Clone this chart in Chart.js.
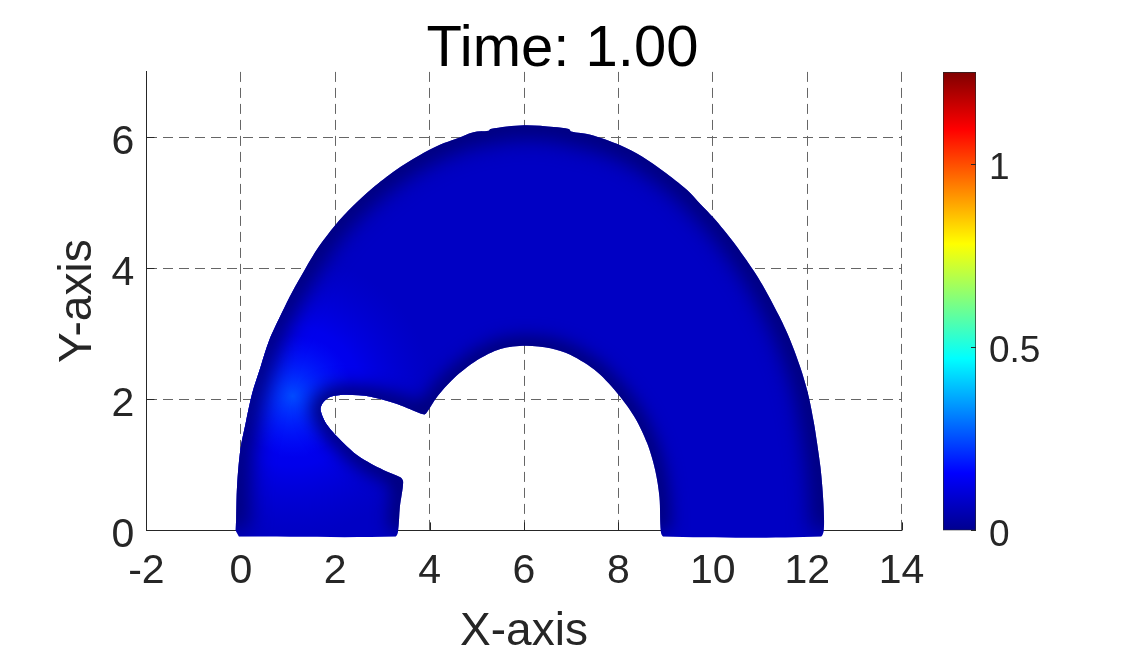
<!DOCTYPE html>
<html>
<head>
<meta charset="utf-8">
<title>Time: 1.00</title>
<script src="https://cdn.jsdelivr.net/npm/chart.js@4"></script>
<style>
  html, body { margin: 0; background: #fff; overflow: hidden; }
  canvas { position: absolute; top: 0; left: 0; }
  #colorbar { left: 900px; }
</style>
</head>
<body>
<canvas id="mainChart" width="1125" height="656"></canvas>
<canvas id="colorbar" width="225" height="656"></canvas>
<script>
// outline of the deformed body (x, y in axis units)
const outerX = [-0.11, -0.10, -0.08, -0.01, 0.10, 0.24, 0.42, 0.60, 0.875, 1.09, 1.37, 1.65, 2.00, 2.36, 2.78, 3.28, 3.77, 4.23, 4.55, 4.93, 5.25, 5.29, 6.00, 6.63, 6.95, 7.00, 7.41, 8.04, 8.50, 8.96, 9.45, 9.74, 10.02, 10.23, 10.44, 10.65, 10.87, 11.05, 11.22, 11.40, 11.54, 11.72, 11.89, 12.03, 12.14, 12.21, 12.28, 12.32, 12.35, 12.35];
const outerY = [0.00, 0.16, 0.67, 1.23, 1.63, 2.09, 2.50, 2.90, 3.33, 3.64, 4.00, 4.33, 4.66, 4.94, 5.22, 5.50, 5.72, 5.89, 5.975, 6.08, 6.10, 6.13, 6.185, 6.16, 6.13, 6.09, 6.04, 5.88, 5.71, 5.48, 5.20, 4.98, 4.77, 4.59, 4.40, 4.19, 3.96, 3.75, 3.53, 3.28, 3.07, 2.76, 2.41, 2.05, 1.65, 1.33, 0.97, 0.67, 0.31, 0.00];
const innerX = [8.90, 8.87, 8.78, 8.61, 8.36, 8.03, 7.55, 6.98, 6.56, 6.03, 5.50, 5.01, 4.51, 4.16, 3.95, 3.89, 3.59, 3.31, 2.75, 2.25, 1.90, 1.74, 1.69, 1.83, 2.18, 2.46, 2.75, 3.03, 3.38, 3.44, 3.37, 3.33];
const innerY = [-0.02, 0.51, 0.92, 1.33, 1.71, 2.05, 2.42, 2.68, 2.78, 2.82, 2.77, 2.60, 2.32, 2.04, 1.81, 1.77, 1.85, 1.93, 2.04, 2.07, 2.04, 1.95, 1.84, 1.61, 1.33, 1.15, 1.02, 0.92, 0.81, 0.74, 0.36, -0.02];
const bottomRightX = [12.28, 8.96];
const bottomLeftX = [3.27, -0.04];
const bottomY = -0.095;

const xTicks = [-2, 0, 2, 4, 6, 8, 10, 12, 14];
const yTicks = [0, 2, 4, 6];
const barTicks = [0, 0.5, 1];
const barMax = 1.25;

// jet colormap, as fractions of the colorbar height
const jetStops = [0, 0.125, 0.375, 0.625, 0.875, 1];
const jetColors = ['#00008f', '#0000ff', '#00ffff', '#ffff00', '#ff0000', '#800000'];

const shapePoints = [];
outerX.forEach((x, i) => shapePoints.push({ x: x, y: outerY[i] }));
bottomRightX.forEach(x => shapePoints.push({ x: x, y: bottomY }));
innerX.forEach((x, i) => shapePoints.push({ x: x, y: innerY[i] }));
bottomLeftX.forEach(x => shapePoints.push({ x: x, y: bottomY }));

const textColor = '#262626';
const font = 'Liberation Sans, Arial, sans-serif';

// small inward ticks like the original axes
const inwardTicks = {
    id: 'inwardTicks',
    beforeDatasetsDraw(chart) {
        const { ctx, chartArea, scales } = chart;
        ctx.save();
        ctx.strokeStyle = textColor;
        ctx.lineWidth = 1;
        ctx.beginPath();
        xTicks.forEach(v => {
            const px = Math.round(scales.x.getPixelForValue(v)) + 0.5;
            ctx.moveTo(px, chartArea.bottom);
            ctx.lineTo(px, chartArea.bottom - 8);
        });
        yTicks.forEach(v => {
            const py = Math.round(scales.y.getPixelForValue(v)) + 0.5;
            ctx.moveTo(chartArea.left, py);
            ctx.lineTo(chartArea.left + 8, py);
        });
        ctx.stroke();
        ctx.restore();
    }
};

// the filler clips at the plot area, the body hangs a little below it, so fill it here
const bodyShade = {
    id: 'bodyShade',
    afterDatasetDraw(chart, args) {
        const { ctx, scales } = chart;
        const line = args.meta.dataset;
        const pts = args.meta.data;
        ctx.save();
        ctx.beginPath();
        line.path(ctx);
        ctx.closePath();
        ctx.fillStyle = '#0000c4';
        ctx.fill();
        ctx.clip();

        // hot spot on the left shoulder
        const hx = scales.x.getPixelForValue(1.1);
        const hy = scales.y.getPixelForValue(2.05);
        let g = ctx.createRadialGradient(hx, hy, 0, hx, hy, 140);
        g.addColorStop(0, 'rgba(0,0,255,1)');
        g.addColorStop(0.5, 'rgba(0,0,245,0.8)');
        g.addColorStop(1, 'rgba(0,0,220,0)');
        ctx.fillStyle = g;
        ctx.fillRect(hx - 140, hy - 140, 280, 280);
        g = ctx.createRadialGradient(hx, hy, 0, hx, hy, 62);
        g.addColorStop(0, 'rgba(0,75,255,1)');
        g.addColorStop(1, 'rgba(0,30,255,0)');
        ctx.fillStyle = g;
        ctx.fillRect(hx - 62, hy - 62, 124, 124);

        // darker along the free edges, not along the bottom
        const nOuter = outerX.length;
        const edge = (from, to, width, blur) => {
            ctx.filter = 'blur(' + blur + 'px)';
            ctx.strokeStyle = '#000070';
            ctx.lineWidth = width;
            ctx.beginPath();
            ctx.moveTo(pts[from].x, pts[from].y);
            for (let i = from + 1; i <= to; i++) ctx.lineTo(pts[i].x, pts[i].y);
            ctx.stroke();
        };
        edge(0, nOuter - 1, 24, 11);
        edge(nOuter + 2, nOuter + 2 + innerX.length - 1, 18, 9);
        ctx.restore();
    }
};

new Chart(document.getElementById('mainChart'), {
    type: 'scatter',
    data: {
        datasets: [{
            data: shapePoints,
            showLine: true,
            fill: false,
            tension: 0.3,
            borderWidth: 0,
            borderColor: '#0000c4',
            pointRadius: 0,
            clip: false
        }]
    },
    options: {
        responsive: false,
        animation: false,
        elements: { line: { capBezierPoints: false } },
        plugins: {
            legend: { display: false },
            tooltip: { enabled: false },
            title: {
                display: true,
                text: 'Time: 1.00',
                color: '#000',
                font: { family: font, size: 58, weight: 'normal', lineHeight: 0.74 },
                padding: { top: 29, bottom: 0 }
            }
        },
        scales: {
            x: {
                type: 'linear',
                min: -2,
                max: 14,
                afterBuildTicks: s => { s.ticks = xTicks.map(v => ({ value: v })); },
                afterFit: s => { s.height = 125.6; },
                ticks: { color: textColor, font: { family: font, size: 41 }, padding: 17, maxRotation: 0 },
                grid: { color: '#666', drawTicks: false, lineWidth: 1 },
                border: { color: textColor, dash: [10, 6] },
                title: { display: true, text: 'X-axis', color: textColor, font: { family: font, size: 46, lineHeight: 1.02 }, padding: { top: 0, bottom: 0 } }
            },
            y: {
                type: 'linear',
                min: 0,
                max: 7,
                afterBuildTicks: s => { s.ticks = yTicks.map(v => ({ value: v })); },
                afterFit: s => { s.width = 146.4; },
                ticks: { color: textColor, font: { family: font, size: 41 }, padding: 12, labelOffset: 5 },
                grid: { color: '#666', drawTicks: false, lineWidth: 1 },
                border: { color: textColor, dash: [10, 6] },
                title: { display: true, text: 'Y-axis', color: textColor, font: { family: font, size: 46 }, padding: { top: 51, bottom: 0 } }
            },
            // empty axis, only keeps room for the colorbar so the title stays centred on the page
            spacer: {
                type: 'linear',
                position: 'right',
                afterFit: s => { s.width = 223.4; },
                ticks: { display: false },
                grid: { display: false },
                border: { display: false }
            }
        }
    },
    plugins: [inwardTicks, bodyShade]
});

// colorbar, a single bar from 0 to the top of the range
function jetGradient(context) {
    const area = context.chart.chartArea;
    if (!area) return jetColors[0];
    const g = context.chart.ctx.createLinearGradient(0, area.bottom, 0, area.top);
    jetStops.forEach((s, i) => g.addColorStop(s, jetColors[i]));
    return g;
}

const barTickMarks = {
    id: 'barTickMarks',
    afterDatasetsDraw(chart) {
        const { ctx, chartArea, scales } = chart;
        ctx.save();
        ctx.strokeStyle = textColor;
        ctx.lineWidth = 1;
        ctx.beginPath();
        barTicks.forEach(v => {
            const py = Math.round(scales.y.getPixelForValue(v)) + 0.5;
            ctx.moveTo(chartArea.right, py);
            ctx.lineTo(chartArea.right - 5, py);
        });
        ctx.stroke();
        ctx.restore();
    }
};

new Chart(document.getElementById('colorbar'), {
    type: 'bar',
    data: {
        labels: [''],
        datasets: [{
            data: [[0, barMax]],
            backgroundColor: jetGradient,
            borderColor: textColor,
            borderWidth: 1,
            borderSkipped: false,
            barPercentage: 1,
            categoryPercentage: 1
        }]
    },
    options: {
        responsive: false,
        animation: false,
        layout: { padding: { left: 43, top: 72, right: 0, bottom: 125.6 } },
        plugins: { legend: { display: false }, tooltip: { enabled: false } },
        scales: {
            x: { display: false },
            y: {
                position: 'right',
                min: 0,
                max: barMax,
                afterBuildTicks: s => { s.ticks = barTicks.map(v => ({ value: v })); },
                afterFit: s => { s.width = 149; },
                ticks: {
                    color: textColor,
                    font: { family: font, size: 37 },
                    padding: 5,
                    labelOffset: 5,
                    callback: v => String(v)
                },
                grid: { display: false },
                border: { display: false }
            }
        }
    },
    plugins: [barTickMarks]
});
</script>
</body>
</html>
